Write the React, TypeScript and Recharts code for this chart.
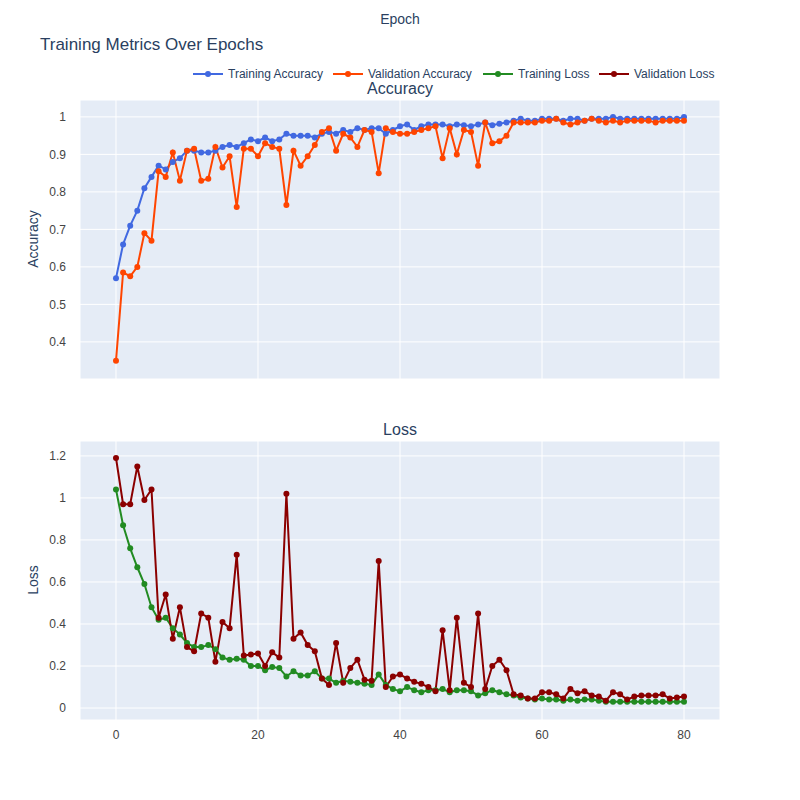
import { LineChart, Line, XAxis, YAxis, CartesianGrid } from "recharts";

const epochs = Array.from({ length: 81 }, (_, i) => i);

const trainAcc = [
  0.57, 0.66, 0.71, 0.75, 0.81, 0.84, 0.87, 0.86, 0.88, 0.89,
  0.91, 0.91, 0.905, 0.905, 0.91, 0.92, 0.925, 0.92, 0.93, 0.94,
  0.935, 0.945, 0.935, 0.94, 0.955, 0.95, 0.95, 0.95, 0.945, 0.955,
  0.96, 0.955, 0.965, 0.96, 0.97, 0.965, 0.97, 0.97, 0.955, 0.965,
  0.975, 0.98, 0.965, 0.975, 0.98, 0.98, 0.98, 0.975, 0.98, 0.978,
  0.975, 0.98, 0.985, 0.978, 0.982, 0.985, 0.99, 0.995, 0.99, 0.99,
  0.995, 0.995, 0.995, 0.99, 0.995, 0.995, 0.99, 0.995, 0.995, 0.995,
  1.0, 0.995, 0.995, 0.995, 0.995, 0.995, 0.995, 0.995, 0.995, 0.995, 1.0,
];
const valAcc = [
  0.35, 0.585, 0.575, 0.6, 0.69, 0.67, 0.855, 0.84, 0.905, 0.83,
  0.91, 0.915, 0.83, 0.835, 0.92, 0.865, 0.895, 0.76, 0.915, 0.915,
  0.895, 0.93, 0.92, 0.915, 0.765, 0.91, 0.87, 0.895, 0.925, 0.96,
  0.97, 0.91, 0.955, 0.945, 0.92, 0.965, 0.96, 0.85, 0.97, 0.96,
  0.955, 0.955, 0.96, 0.965, 0.97, 0.975, 0.89, 0.97, 0.9, 0.965,
  0.96, 0.87, 0.985, 0.93, 0.935, 0.95, 0.985, 0.985, 0.985, 0.985,
  0.99, 0.99, 0.995, 0.985, 0.98, 0.985, 0.99, 0.995, 0.99, 0.985,
  0.99, 0.985, 0.99, 0.99, 0.99, 0.99, 0.985, 0.99, 0.99, 0.99, 0.99,
];
const trainLoss = [
  1.04, 0.87, 0.76, 0.67, 0.59, 0.48, 0.42, 0.43, 0.38, 0.35,
  0.31, 0.29, 0.29, 0.3, 0.28, 0.24, 0.23, 0.235, 0.23, 0.2,
  0.2, 0.18, 0.195, 0.19, 0.15, 0.175, 0.155, 0.155, 0.175, 0.14,
  0.14, 0.12, 0.13, 0.125, 0.12, 0.115, 0.11, 0.16, 0.11, 0.09,
  0.08, 0.1, 0.085, 0.075, 0.085, 0.085, 0.09, 0.075, 0.085, 0.085,
  0.08, 0.06, 0.07, 0.085, 0.075, 0.065, 0.06, 0.05, 0.045, 0.04,
  0.045, 0.04, 0.04, 0.035, 0.04, 0.035, 0.04, 0.04, 0.035, 0.03,
  0.03, 0.03, 0.03, 0.03, 0.03, 0.03, 0.03, 0.03, 0.03, 0.03, 0.03,
];
const valLoss = [
  1.19, 0.97, 0.97, 1.15, 0.99, 1.04, 0.43, 0.54, 0.33, 0.48,
  0.29, 0.27, 0.45, 0.43, 0.22, 0.41, 0.38, 0.73, 0.25, 0.255,
  0.26, 0.2, 0.265, 0.24, 1.02, 0.33, 0.36, 0.3, 0.27, 0.14,
  0.11, 0.31, 0.12, 0.19, 0.23, 0.135, 0.13, 0.7, 0.1, 0.15,
  0.16, 0.14, 0.125, 0.115, 0.1, 0.08, 0.37, 0.085, 0.43, 0.12,
  0.1, 0.45, 0.09, 0.2, 0.23, 0.18, 0.065, 0.06, 0.045, 0.045,
  0.075, 0.075, 0.065, 0.045, 0.09, 0.07, 0.08, 0.06, 0.055, 0.035,
  0.075, 0.065, 0.04, 0.055, 0.06, 0.06, 0.06, 0.065, 0.045, 0.05, 0.055,
];

const accTicks = [0.4, 0.5, 0.6, 0.7, 0.8, 0.9, 1];
const lossTicks = [0, 0.2, 0.4, 0.6, 0.8, 1, 1.2];
const epochTicks = [0, 20, 40, 60, 80];

const accData = epochs.map((e) => ({ epoch: e, train: trainAcc[e], val: valAcc[e] }));
const lossData = epochs.map((e) => ({ epoch: e, train: trainLoss[e], val: valLoss[e] }));

const font = "'Liberation Sans', Arial, sans-serif";
const tickStyle = { fill: "#444", fontSize: 12, fontFamily: font };

const legendItems = [
  { name: "Training Accuracy", color: "#4169E1", x: 193 },
  { name: "Validation Accuracy", color: "#FF4500", x: 333 },
  { name: "Training Loss", color: "#228B22", x: 483 },
  { name: "Validation Loss", color: "#8B0000", x: 599 },
];

function Series({ color, dataKey }: { color: string; dataKey: string }) {
  return (
    <Line
      type="linear"
      dataKey={dataKey}
      stroke={color}
      strokeWidth={2}
      dot={{ r: 3, fill: color, stroke: color, strokeWidth: 0 }}
      isAnimationActive={false}
    />
  );
}

const abs = (x: number, y: number, extra: any = {}) => ({
  position: "absolute" as const,
  left: x,
  top: y,
  fontFamily: font,
  color: "#2a3f5f",
  whiteSpace: "nowrap" as const,
  lineHeight: 1,
  ...extra,
});

export default function App() {
  return (
    <div style={{ position: "relative", width: 800, height: 800, margin: -8, background: "#fff" }}>
      <div style={abs(400, 12, { fontSize: 14, transform: "translateX(-50%)" })}>Epoch</div>
      <div style={abs(40, 36, { fontSize: 17 })}>Training Metrics Over Epochs</div>
      {legendItems.map((it) => (
        <div key={it.name} style={abs(it.x, 67, { fontSize: 12, display: "flex", alignItems: "center" })}>
          <svg width={32} height={14}>
            <line x1={0} y1={7} x2={30} y2={7} stroke={it.color} strokeWidth={2} />
            <circle cx={15} cy={7} r={3} fill={it.color} />
          </svg>
          <span style={{ marginLeft: 3 }}>{it.name}</span>
        </div>
      ))}
      <div style={abs(400, 81, { fontSize: 16, transform: "translateX(-50%)" })}>Accuracy</div>
      <div style={abs(400, 422, { fontSize: 16, transform: "translateX(-50%)" })}>Loss</div>
      <div style={abs(33, 239, { fontSize: 14, transform: "translate(-50%,-50%) rotate(-90deg)" })}>Accuracy</div>
      <div style={abs(33, 580, { fontSize: 14, transform: "translate(-50%,-50%) rotate(-90deg)" })}>Loss</div>

      <div style={{ position: "absolute", left: 0, top: 0 }}>
        <LineChart width={800} height={380} data={accData} margin={{ top: 100, right: 80, bottom: 1, left: 30 }}>
          <CartesianGrid fill="#E5ECF6" stroke="#fff" strokeWidth={1} />
          <XAxis
            dataKey="epoch"
            type="number"
            domain={[-5.07, 85.07]}
            ticks={epochTicks}
            tick={{ fill: "transparent", fontSize: 1 }}
            tickLine={false}
            axisLine={false}
            height={0}
            allowDataOverflow
          />
          <YAxis
            type="number"
            domain={[0.301, 1.045]}
            ticks={accTicks}
            tick={tickStyle}
            tickLine={false}
            axisLine={false}
            width={50}
            tickMargin={8}
            allowDataOverflow
          />
          <Series dataKey="train" color="#4169E1" />
          <Series dataKey="val" color="#FF4500" />
        </LineChart>
      </div>

      <div style={{ position: "absolute", left: 0, top: 400 }}>
        <LineChart width={800} height={360} data={lossData} margin={{ top: 41, right: 80, bottom: 10, left: 30 }}>
          <CartesianGrid fill="#E5ECF6" stroke="#fff" strokeWidth={1} />
          <XAxis
            dataKey="epoch"
            type="number"
            domain={[-5.07, 85.07]}
            ticks={epochTicks}
            tick={tickStyle}
            tickLine={false}
            axisLine={false}
            height={30}
            tickMargin={4}
            allowDataOverflow
          />
          <YAxis
            type="number"
            domain={[-0.057, 1.271]}
            ticks={lossTicks}
            tick={tickStyle}
            tickLine={false}
            axisLine={false}
            width={50}
            tickMargin={8}
            allowDataOverflow
          />
          <Series dataKey="train" color="#228B22" />
          <Series dataKey="val" color="#8B0000" />
        </LineChart>
      </div>
    </div>
  );
}
